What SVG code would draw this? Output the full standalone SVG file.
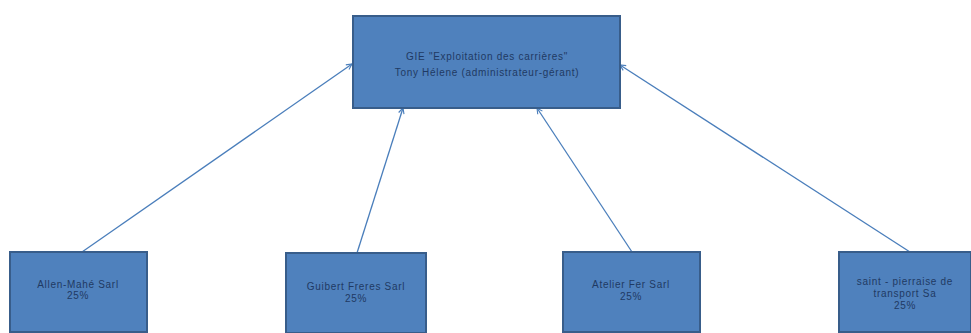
<svg xmlns="http://www.w3.org/2000/svg" width="971" height="333" viewBox="0 0 971 333">
<defs>
<marker id="arr" viewBox="0 0 10 10" refX="9" refY="5" markerWidth="7" markerHeight="7" orient="auto" markerUnits="userSpaceOnUse">
<path d="M1,1 L9,5 L1,9" fill="none" stroke="#4a7ebb" stroke-width="1.6"/>
</marker>
<style>
.box{fill:#4f81bd;stroke:#385d8a;stroke-width:2}
.t{font-family:"Liberation Sans",Arial,sans-serif;font-size:10px;letter-spacing:0.7px;fill:#1f3a63;text-anchor:middle}
.c{stroke:#4a7ebb;stroke-width:1.3;fill:none;marker-end:url(#arr)}
</style>
</defs>
<rect width="971" height="333" fill="#ffffff"/>
<g id="connectors">
<line class="c" x1="82" y1="252" x2="352" y2="64"/>
<line class="c" x1="357" y1="253" x2="403" y2="108"/>
<line class="c" x1="632" y1="252" x2="537" y2="108"/>
<line class="c" x1="910" y1="252" x2="620" y2="65"/>
</g>
<g id="gie">
<rect class="box" x="353" y="16" width="267" height="92"/>
<text class="t" x="487" y="60">GIE  "Exploitation des carrières"</text>
<text class="t" x="487" y="76">Tony Hélene (administrateur-gérant)</text>
</g>
<g id="allen">
<rect class="box" x="10" y="252" width="137" height="80"/>
<text class="t" x="78" y="288">Allen-Mahé Sarl</text>
<text class="t" x="78" y="299">25%</text>
</g>
<g id="guibert">
<rect class="box" x="286" y="253" width="140" height="80"/>
<text class="t" x="356" y="290">Guibert Freres Sarl</text>
<text class="t" x="356" y="302">25%</text>
</g>
<g id="atelier">
<rect class="box" x="563" y="252" width="137" height="80"/>
<text class="t" x="631" y="288">Atelier Fer Sarl</text>
<text class="t" x="631" y="300">25%</text>
</g>
<g id="saint">
<rect class="box" x="839" y="252" width="132" height="80"/>
<text class="t" x="905" y="285">saint - pierraise de</text>
<text class="t" x="905" y="297">transport Sa</text>
<text class="t" x="905" y="309">25%</text>
</g>
</svg>
